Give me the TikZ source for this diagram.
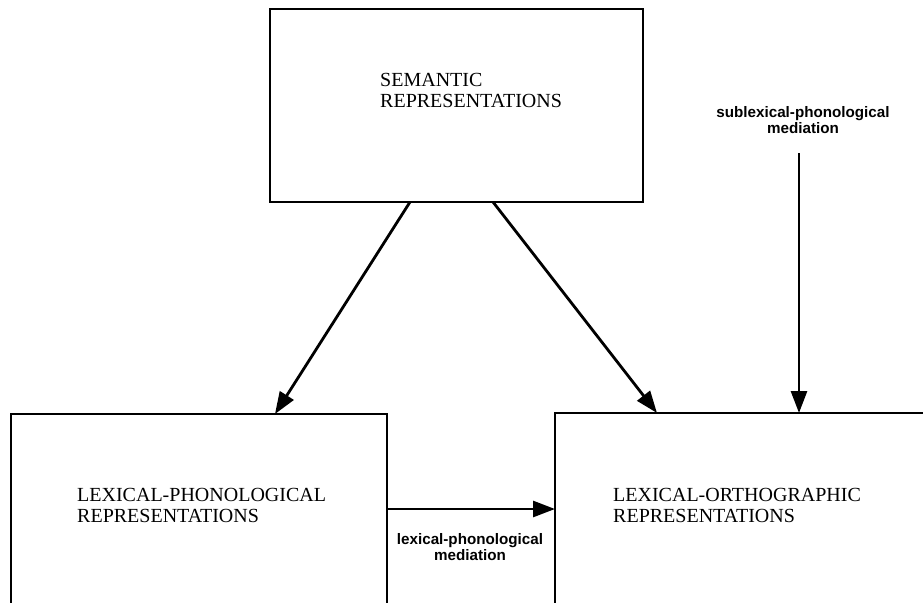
\documentclass[tikz,border=0pt]{standalone}
\usepackage{fontspec}
\setmainfont{Liberation Serif}
\setsansfont{Liberation Sans}
\usetikzlibrary{arrows.meta,calc}
\begin{document}
\begin{tikzpicture}[x=1pt,y=-1pt,
  box/.style={draw, line width=2.4pt, inner sep=0pt, outer sep=0pt, anchor=north west},
  arr/.style={line width=2.8pt, -{Triangle[length=22pt,width=16pt]}},
  rep/.style={font=\fontsize{20}{21.5}\selectfont, align=left, inner sep=0pt, anchor=north west},
  lab/.style={font=\sffamily\bfseries\fontsize{15.2}{16}\selectfont, align=center, inner sep=0pt}]
\useasboundingbox (0,0) rectangle (923,602);

% the three representation boxes (the lower two run off the page)
\node[box, minimum width=373pt, minimum height=193pt] (sem) at (270,9) {};
\node[box, minimum width=376pt, minimum height=220pt] (lp) at (11,414) {};
\node[box, minimum width=400pt, minimum height=220pt] (lo) at (555,413) {};

% box captions
\node[rep] (semtxt) at (380,73) {SEMANTIC\\REPRESENTATIONS};
\node[rep] (lptxt) at (77,488) {LEXICAL-PHONOLOGICAL\\REPRESENTATIONS};
\node[rep] (lotxt) at (613,488) {LEXICAL-ORTHOGRAPHIC\\REPRESENTATIONS};

% route labels
\node[lab] (sublab) at (803,120) {sublexical-phonological\\mediation};
\node[lab] (lexlab) at (470,547) {lexical-phonological\\mediation};
\coordinate (subtop) at (799,153);

% connectors
\draw[arr] ($(sem.south west)+(140,0)$) -- ($(lp.north west)+(264,0)$);
\draw[arr] ($(sem.south west)+(223,0)$) -- ($(lo.north west)+(102,0)$);
\draw[arr] (subtop) -- (subtop |- lo.north);
\draw[arr] (lp.east |- 0,509) -- (lo.west |- 0,509);
\end{tikzpicture}
\end{document}
